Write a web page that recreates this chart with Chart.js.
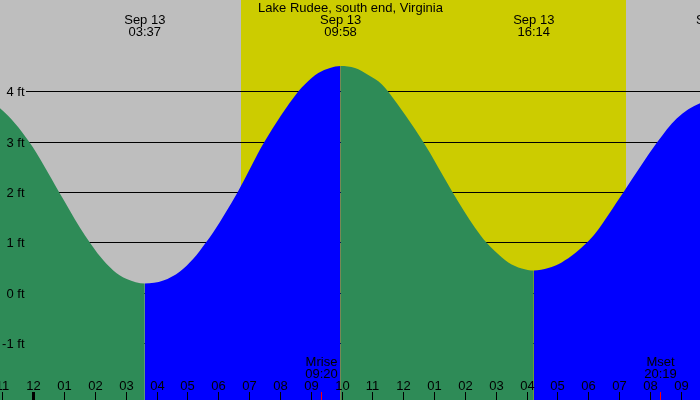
<!DOCTYPE html>
<html>
<head>
<meta charset="utf-8">
<script src="https://cdn.jsdelivr.net/npm/chart.js@4.4.1/dist/chart.umd.min.js"></script>
<style>
html,body{margin:0;padding:0;background:#bebebe;overflow:hidden;}
#wrap{width:700px;height:400px;position:relative;}
canvas{display:block;}
</style>
</head>
<body>
<div id="wrap"><canvas id="c" width="700" height="400"></canvas></div>
<script>
// ---- data (hours since midnight, Sep 13; heights in ft) ----
const titleText = 'Lake Rudee, south end, Virginia';
const tideTimes = [-2.248, -1.080, -0.130, 0.843, 1.515, 1.839, 2.163, 2.595, 3.030, 3.617,
  4.217, 4.758, 5.190, 5.592, 5.838, 6.623, 7.493, 8.586, 8.813, 9.244, 9.624, 9.967,
  10.435, 10.866, 11.301, 11.515, 12.650, 13.604, 14.327, 14.706, 14.976, 15.407, 15.842, 16.233,
  16.705, 17.139, 17.570, 17.950, 18.219, 19.137, 20.240, 20.869, 21.625, 22.167];
const tideHeights = [4.00, 3.67, 3.00, 2.00, 1.30, 1.00, 0.73, 0.45, 0.28, 0.19,
  0.25, 0.43, 0.68, 1.00, 1.21, 2.00, 3.00, 4.00, 4.15, 4.37, 4.47, 4.51,
  4.47, 4.33, 4.15, 4.00, 3.00, 2.00, 1.30, 1.00, 0.83, 0.61, 0.49, 0.45,
  0.50, 0.61, 0.79, 1.00, 1.18, 2.00, 3.00, 3.47, 3.77, 3.84];
const extremeTimes = [3.617, 9.967, 16.233, 22.167];
const extremeDates = ['Sep 13', 'Sep 13', 'Sep 13', 'Sep 13'];
const extremeLabels = ['03:37', '09:58', '16:14', '22:10'];
const sunTimes = [6.737, 19.225];
const moonTimes = [9.333, 20.317];
const moonNames = ['Mrise', 'Mset'];
const moonLabels = ['09:20', '20:19'];
const hourTicks = [-1,0,1,2,3,4,5,6,7,8,9,10,11,12,13,14,15,16,17,18,19,20,21];
const hourLabels = ['11','12','01','02','03','04','05','06','07','08','09','10','11','12','01','02','03','04','05','06','07','08','09'];
const footTicks = [-1, 0, 1, 2, 3, 4];
const footLabels = ['-1 ft', '0 ft', '1 ft', '2 ft', '3 ft', '4 ft'];

// ---- styles ----
const GRAY = '#bebebe', YELLOW = '#cccc00', GREEN = '#2e8b57', BLUE = '#0000ff';
const FONT = "13px 'Liberation Sans', Arial, Helvetica, sans-serif";

const decor = {
  id: 'decor',
  beforeDraw(chart) {
    const {ctx, scales: {x, y}, width, height} = chart;
    ctx.save();
    ctx.fillStyle = GRAY;
    ctx.fillRect(0, 0, width, height);
    const x0 = Math.round(x.getPixelForValue(sunTimes[0]));
    const x1 = Math.round(x.getPixelForValue(sunTimes[1]));
    ctx.fillStyle = YELLOW;
    ctx.fillRect(x0, 0, x1 - x0, height);
    ctx.fillStyle = '#000';
    footTicks.forEach(v => {
      const row = Math.floor(y.getPixelForValue(v));
      ctx.fillRect(26, row, width - 26, 1);
    });
    ctx.restore();
  },
  afterDraw(chart) {
    const {ctx, scales: {x, y}, width} = chart;
    ctx.save();
    ctx.font = FONT;
    ctx.fillStyle = '#000';
    ctx.textBaseline = 'alphabetic';
    // y labels
    ctx.textAlign = 'right';
    footTicks.forEach((v, i) => {
      const row = Math.floor(y.getPixelForValue(v));
      ctx.fillText(footLabels[i], 24.5, row + 5);
    });
    // hour ticks
    ctx.textAlign = 'center';
    hourTicks.forEach((h, i) => {
      const px = Math.round(x.getPixelForValue(h));
      ctx.fillStyle = '#000';
      if (h % 24 === 0) ctx.fillRect(px - 1, 392, 3, 8);
      else ctx.fillRect(px, 392, 1, 8);
      ctx.fillText(hourLabels[i], px + 0.5, 390);
    });
    // moon
    moonTimes.forEach((t, i) => {
      const px = Math.round(x.getPixelForValue(t));
      ctx.fillStyle = '#ff0000';
      ctx.fillRect(px, 392, 1, 8);
      ctx.fillStyle = '#000';
      ctx.fillText(moonNames[i], px + 0.5, 366);
      ctx.fillText(moonLabels[i], px + 0.5, 378);
    });
    // extremes
    extremeTimes.forEach((t, i) => {
      const px = x.getPixelForValue(t);
      ctx.fillText(extremeDates[i], px, 24);
      ctx.fillText(extremeLabels[i], px, 36);
    });
    // title
    ctx.fillText(titleText, width / 2 + 0.5, 12);
    ctx.restore();
  }
};

new Chart(document.getElementById('c'), {
  type: 'line',
  data: {
    datasets: [{
      data: tideTimes.map((t, i) => ({x: t, y: tideHeights[i]})),
      fill: 'start',
      borderWidth: 0,
      borderColor: 'rgba(0,0,0,0)',
      backgroundColor: GREEN,
      pointRadius: 0,
      cubicInterpolationMode: 'monotone',
      segment: {
        backgroundColor: c => (c.p1.parsed.y >= c.p0.parsed.y ? BLUE : GREEN),
        borderColor: () => 'rgba(0,0,0,0)'
      }
    }]
  },
  options: {
    responsive: false,
    animation: false,
    devicePixelRatio: 1,
    layout: {padding: 0},
    plugins: {legend: {display: false}, tooltip: {enabled: false}, title: {display: false}},
    scales: {
      x: {type: 'linear', min: -1.080, max: 21.625, display: false},
      y: {type: 'linear', min: -2.123, max: 5.821, display: false}
    }
  },
  plugins: [decor]
});
</script>
</body>
</html>
